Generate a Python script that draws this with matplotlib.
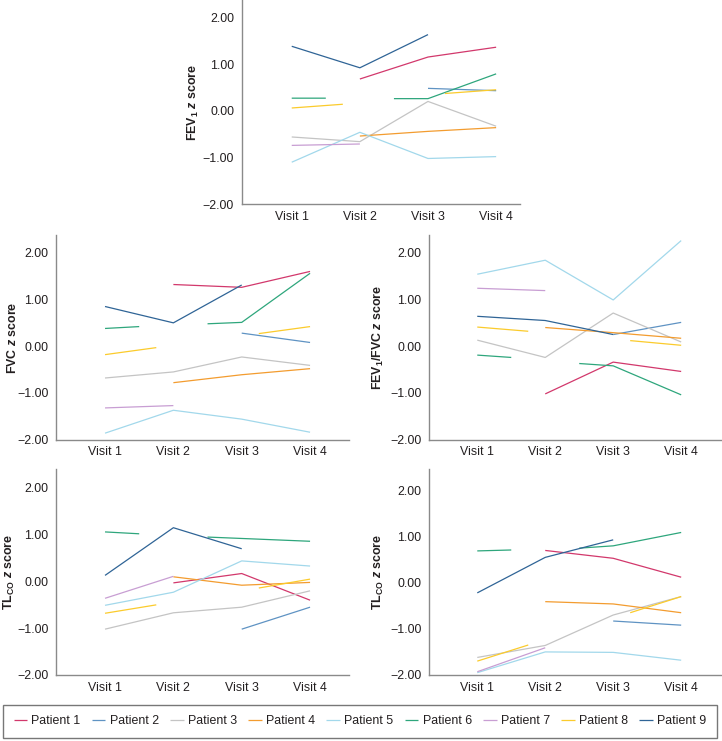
import numpy as np
import matplotlib
matplotlib.use("Agg")
import matplotlib.pyplot as plt

plt.rcParams['font.family'] = ['Liberation Sans', 'DejaVu Sans']
plt.rcParams['mathtext.fontset'] = 'custom'
plt.rcParams['mathtext.rm'] = 'Liberation Sans:bold'
plt.rcParams['mathtext.it'] = 'Liberation Sans:bold:italic'
plt.rcParams['mathtext.bf'] = 'Liberation Sans:bold'

nan = np.nan
patients = ['Patient 1', 'Patient 2', 'Patient 3', 'Patient 4', 'Patient 5',
            'Patient 6', 'Patient 7', 'Patient 8', 'Patient 9']
colors = ['#d2386c', '#5f93c3', '#c4c4c4', '#f39c2f', '#a2d8eb',
          '#2ea67c', '#c89ed3', '#fbcb2c', '#2f6496']
visit_labels = ['Visit 1', 'Visit 2', 'Visit 3', 'Visit 4']
yticks = [-2, -1, 0, 1, 2]

# Visit positions (x) for each patient; gaps (nan) where a visit is missing
x_p1 = [2, 3, 4]
x_p2 = [3, 4]
x_p3 = [1, 2, 3, 4]
x_p4 = [2, 3, 4]
x_p5 = [1, 2, 3, 4]
x_p6 = [1, 1.5, nan, 2.5, 3, 4]
x_p7 = [1, 2]
x_p8 = [1, 1.75, nan, 3.25, 4]
x_p9 = [1, 2, 3]

# FEV1 z score
fev1_p1 = [0.68, 1.15, 1.36]
fev1_p2 = [0.48, 0.43]
fev1_p3 = [-0.56, -0.66, 0.20, -0.33]
fev1_p4 = [-0.54, -0.44, -0.36]
fev1_p5 = [-1.10, -0.46, -1.02, -0.98]
fev1_p6 = [0.27, 0.27, nan, 0.26, 0.26, 0.79]
fev1_p7 = [-0.74, -0.71]
fev1_p8 = [0.06, 0.14, nan, 0.37, 0.45]
fev1_p9 = [1.38, 0.92, 1.63]

# FVC z score
fvc_p1 = [1.32, 1.26, 1.60]
fvc_p2 = [0.28, 0.08]
fvc_p3 = [-0.68, -0.55, -0.23, -0.41]
fvc_p4 = [-0.78, -0.61, -0.48]
fvc_p5 = [-1.86, -1.37, -1.56, -1.84]
fvc_p6 = [0.38, 0.42, nan, 0.48, 0.51, 1.56]
fvc_p7 = [-1.32, -1.27]
fvc_p8 = [-0.18, -0.03, nan, 0.27, 0.42]
fvc_p9 = [0.85, 0.50, 1.31]

# FEV1/FVC z score
ratio_p1 = [-1.02, -0.34, -0.54]
ratio_p2 = [0.25, 0.51]
ratio_p3 = [0.13, -0.24, 0.71, 0.09]
ratio_p4 = [0.40, 0.29, 0.17]
ratio_p5 = [1.54, 1.84, 0.99, 2.26]
ratio_p6 = [-0.19, -0.24, nan, -0.37, -0.42, -1.04]
ratio_p7 = [1.24, 1.19]
ratio_p8 = [0.41, 0.32, nan, 0.12, 0.02]
ratio_p9 = [0.64, 0.55, 0.25]

# TLCO z score (left)
tlco_a_p1 = [-0.03, 0.17, -0.40]
tlco_a_p2 = [-1.02, -0.55]
tlco_a_p3 = [-1.02, -0.67, -0.55, -0.20]
tlco_a_p4 = [0.10, -0.08, -0.02]
tlco_a_p5 = [-0.51, -0.23, 0.44, 0.33]
tlco_a_p6 = [1.06, 1.02, nan, 0.95, 0.92, 0.86]
tlco_a_p7 = [-0.36, 0.11]
tlco_a_p8 = [-0.68, -0.50, nan, -0.14, 0.05]
tlco_a_p9 = [0.13, 1.15, 0.70]

# TLCO z score (right)
tlco_b_p1 = [0.70, 0.53, 0.12]
tlco_b_p2 = [-0.83, -0.92]
tlco_b_p3 = [-1.62, -1.36, -0.70, -0.30]
tlco_b_p4 = [-0.41, -0.46, -0.65]
tlco_b_p5 = [-1.95, -1.50, -1.51, -1.68]
tlco_b_p6 = [0.69, 0.71, nan, 0.75, 0.80, 1.09]
tlco_b_p7 = [-1.93, -1.41]
tlco_b_p8 = [-1.70, -1.35, nan, -0.65, -0.30]
tlco_b_p9 = [-0.22, 0.55, 0.93]

xs_std = [x_p1, x_p2, x_p3, x_p4, x_p5, x_p6, x_p7, x_p8, x_p9]

panels = [
    dict(rect=[0.3348, 0.7243, 0.3854, 0.2757], ylim=(-2, 2.37), xlim=(0.266, 4.35),
         label=r'FEV$_1$ $z$ score', lx=-0.175,
         ys=[fev1_p1, fev1_p2, fev1_p3, fev1_p4, fev1_p5, fev1_p6, fev1_p7, fev1_p8, fev1_p9]),
    dict(rect=[0.0776, 0.4066, 0.4058, 0.2763], ylim=(-2, 2.38), xlim=(0.283, 4.57),
         label=r'FVC $z$ score', lx=-0.150,
         ys=[fvc_p1, fvc_p2, fvc_p3, fvc_p4, fvc_p5, fvc_p6, fvc_p7, fvc_p8, fvc_p9]),
    dict(rect=[0.5942, 0.4066, 0.4048, 0.2763], ylim=(-2, 2.38), xlim=(0.29, 4.59),
         label=r'FEV$_1$/FVC $z$ score', lx=-0.174,
         ys=[ratio_p1, ratio_p2, ratio_p3, ratio_p4, ratio_p5, ratio_p6, ratio_p7, ratio_p8, ratio_p9]),
    dict(rect=[0.0776, 0.0891, 0.4058, 0.2776], ylim=(-2, 2.4), xlim=(0.283, 4.57),
         label=r'TL$_{\mathrm{CO}}$ $z$ score', lx=-0.160,
         ys=[tlco_a_p1, tlco_a_p2, tlco_a_p3, tlco_a_p4, tlco_a_p5, tlco_a_p6, tlco_a_p7, tlco_a_p8, tlco_a_p9]),
    dict(rect=[0.5942, 0.0891, 0.4048, 0.2776], ylim=(-2, 2.46), xlim=(0.29, 4.59),
         label=r'TL$_{\mathrm{CO}}$ $z$ score', lx=-0.172,
         ys=[tlco_b_p1, tlco_b_p2, tlco_b_p3, tlco_b_p4, tlco_b_p5, tlco_b_p6, tlco_b_p7, tlco_b_p8, tlco_b_p9]),
]

fig = plt.figure(figsize=(7.22, 7.41), dpi=100)
text_color = '#231f20'
spine_color = '#8a8a8a'
fs = 8.9

handles = None
for p in panels:
    ax = fig.add_axes(p['rect'])
    lines = []
    for name, col, x, y in zip(patients, colors, xs_std, p['ys']):
        ln, = ax.plot(x, y, color=col, lw=0.9, label=name, solid_capstyle='butt')
        lines.append(ln)
    handles = lines
    ax.set_xlim(*p['xlim'])
    ax.set_ylim(*p['ylim'])
    ax.set_xticks([1, 2, 3, 4])
    ax.set_xticklabels(visit_labels)
    ax.set_yticks(yticks)
    ax.set_yticklabels([f'{v:.2f}'.replace('-', '\u2212') for v in yticks])
    ax.tick_params(length=0, labelsize=fs, colors=text_color)
    ax.tick_params(axis='y', pad=5.5)
    ax.tick_params(axis='x', pad=4.8)
    for s in ['top', 'right']:
        ax.spines[s].set_visible(False)
    for s in ['left', 'bottom']:
        ax.spines[s].set_color(spine_color)
        ax.spines[s].set_linewidth(1.0)
    ax.set_ylabel(p['label'], fontsize=fs, fontweight='bold', color=text_color, va='center')
    ax.yaxis.set_label_coords(p['lx'], 0.5)

leg = fig.legend(handles, patients, loc='center', ncol=9,
                 bbox_to_anchor=(3 / 722, 3 / 741, 714 / 722, 33 / 741), mode='expand',
                 fontsize=fs, frameon=True, fancybox=False, handlelength=1.1,
                 handletextpad=0.35, columnspacing=1.0, borderaxespad=0.0, borderpad=0.85)
leg.get_frame().set_edgecolor('#555555')
leg.get_frame().set_linewidth(1.0)
for t in leg.get_texts():
    t.set_color(text_color)

fig.savefig('out.png', dpi=100)
